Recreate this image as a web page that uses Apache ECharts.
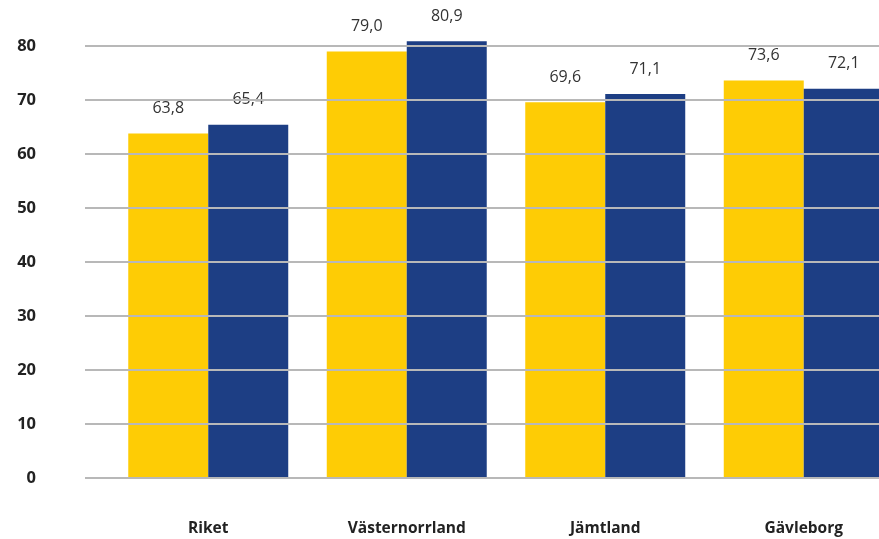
<!DOCTYPE html>
<html>
<head>
<meta charset="utf-8">
<script src="https://cdn.jsdelivr.net/npm/echarts@6/dist/echarts.min.js"></script>
<style>
  html, body { margin: 0; padding: 0; background: #fff; }
  #chart { width: 879px; height: 539px; }
</style>
</head>
<body>
<div id="chart"></div>
<script>
const categories = ['Riket', 'Västernorrland', 'Jämtland', 'Gävleborg'];
const seriesA = [63.8, 79.0, 69.6, 73.6];
const seriesB = [65.4, 80.9, 71.1, 72.1];
const yMin = 0;
const yMax = 90;
const yStep = 10;

const font = '"Open Sans", "Noto Sans", sans-serif';
const fmt = (v) => v.toFixed(1).replace('.', ',');

const chart = echarts.init(document.getElementById('chart'));

chart.setOption({
  animation: false,
  grid: [
    // gridlines + y labels
    { left: 85, right: 0, top: -8, bottom: 61, outerBoundsMode: 'none' },
    // bars (plot extends past the right edge)
    { left: 109, width: 794, top: -8, bottom: 61, outerBoundsMode: 'none' }
  ],
  xAxis: [
    { gridIndex: 0, type: 'value', show: false, min: 0, max: 1 },
    {
      gridIndex: 1,
      type: 'category',
      data: categories,
      axisLine: { show: false },
      axisTick: { show: false },
      axisLabel: {
        margin: 43,
        color: '#222',
        fontFamily: font,
        fontWeight: 'bold',
        fontSize: 15.5
      }
    }
  ],
  yAxis: [
    {
      gridIndex: 0,
      type: 'value',
      min: yMin,
      max: yMax,
      interval: yStep,
      z: 5,
      axisLine: { show: false },
      axisTick: { show: false },
      splitLine: { lineStyle: { color: '#b8b8b8', width: 2 } },
      axisLabel: {
        margin: 49,
        color: '#222',
        fontFamily: font,
        fontWeight: 'bold',
        fontSize: 16.5
      }
    },
    {
      gridIndex: 1,
      type: 'value',
      min: yMin,
      max: yMax,
      interval: yStep,
      show: false,
      splitLine: { show: false }
    }
  ],
  series: [
    {
      type: 'bar',
      xAxisIndex: 1,
      yAxisIndex: 1,
      data: seriesA,
      barGap: '0%',
      barCategoryGap: '19.4%',
      itemStyle: { color: '#fecc05' },
      label: {
        show: true,
        position: 'top',
        distance: 17,
        color: '#333',
        fontFamily: font,
        fontSize: 16,
        formatter: (p) => fmt(p.value)
      }
    },
    {
      type: 'bar',
      xAxisIndex: 1,
      yAxisIndex: 1,
      data: seriesB,
      itemStyle: { color: '#1d3e84' },
      label: {
        show: true,
        position: 'top',
        distance: 17,
        color: '#333',
        fontFamily: font,
        fontSize: 16,
        formatter: (p) => fmt(p.value)
      }
    }
  ]
});
</script>
</body>
</html>
